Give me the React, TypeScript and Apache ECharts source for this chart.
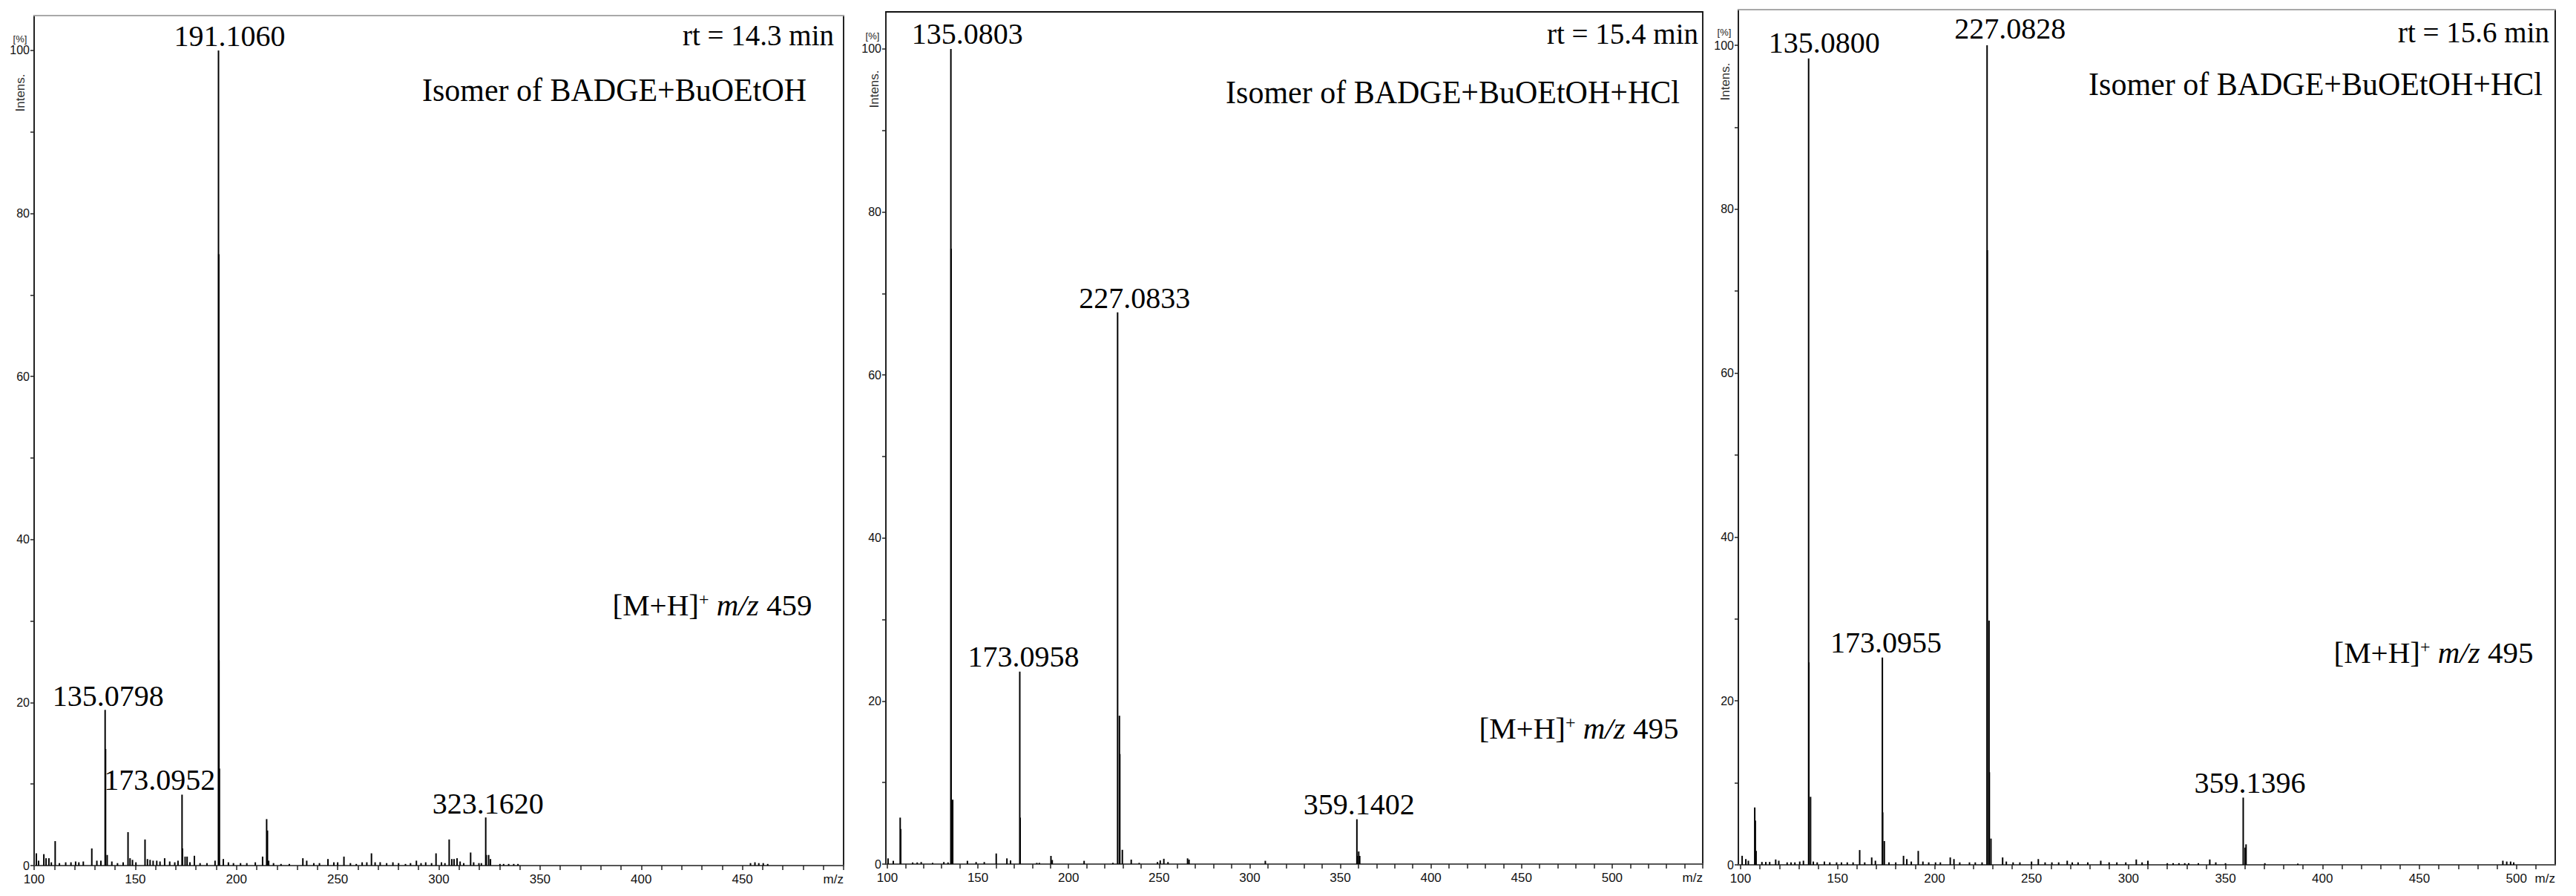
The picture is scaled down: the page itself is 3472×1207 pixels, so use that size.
import React, { useEffect, useRef } from "react";
import * as echarts from "echarts";

// ---------------- DATA ----------------
// Panel 1: Isomer of BADGE+BuOEtOH, rt = 14.3 min
const p1Title = "Isomer of BADGE+BuOEtOH";
const p1Rt = "rt = 14.3 min";
const p1Ion = "459";
const p1Mz = [
  191.106, 191.25, 191.35, 191.55, 135.0798, 135.3, 173.0952, 173.3, 323.162, 323.45,
  101.1, 102.2, 104.8, 105.9, 107.3, 108.5, 110.4, 112.5, 115.6, 118.2, 120.5, 122.1, 124.3,
  128.5, 131.0, 133.0, 136.1, 138.4, 141.2, 144.0, 146.4, 147.4, 148.6, 150.3, 154.8, 156.0,
  157.3, 158.8, 160.6, 162.2, 164.5, 167.0, 169.5, 171.1, 174.6, 175.6, 177.0, 179.2, 182.0,
  185.4, 189.4, 193.5, 196.0, 198.5, 202.0, 205.1, 209.3, 212.9, 214.9, 215.3, 215.9, 218.3,
  222.0, 226.1, 232.8, 234.7, 238.2, 241.0, 245.2, 248.1, 250.0, 253.1, 256.3, 259.2, 262.1,
  264.4, 266.7, 268.5, 271.0, 274.2, 277.3, 280.1, 283.5, 286.0, 288.9, 291.2, 293.5, 296.4,
  298.6, 301.3, 303.0, 305.1, 306.4, 307.5, 309.0, 310.5, 312.3, 315.7, 317.2, 319.8, 321.0,
  324.6, 325.5, 330.2, 332.0, 334.5, 337.0, 339.1, 454.0, 456.2, 458.1, 460.3, 462.5,
];
const p1Int = [
  100, 75, 25.2, 11.9, 19.1, 14.3, 8.7, 2.1, 5.9, 1.3,
  1.5, 0.6, 1.4, 0.9, 0.9, 0.4, 3.0, 0.3, 0.4, 0.4, 0.5, 0.4, 0.5,
  2.1, 0.6, 0.6, 1.3, 0.5, 0.3, 0.4, 4.1, 0.9, 0.7, 0.4, 3.2, 0.8,
  0.7, 0.6, 0.6, 0.5, 0.9, 0.5, 0.4, 0.6, 1.1, 1.1, 0.4, 1.2, 0.3,
  0.3, 0.6, 0.8, 0.4, 0.3, 0.3, 0.3, 0.4, 1.1, 5.7, 4.3, 0.6, 0.3,
  0.2, 0.2, 0.9, 0.6, 0.3, 0.3, 0.8, 0.4, 0.4, 1.1, 0.3, 0.2, 0.4,
  0.4, 1.5, 0.4, 0.4, 0.3, 0.4, 0.3, 0.2, 0.3, 0.6, 0.3, 0.4, 0.3,
  1.5, 0.4, 0.3, 3.2, 0.8, 0.8, 0.9, 0.5, 0.3, 1.6, 0.4, 0.3, 0.3,
  1.3, 0.8, 0.2, 0.2, 0.2, 0.2, 0.2, 0.3, 0.4, 0.3, 0.3, 0.2,
];
const p1LabelMz = [191.106, 135.0798, 173.0952, 323.162];

// Panel 2: Isomer of BADGE+BuOEtOH+HCl, rt = 15.4 min
const p2Title = "Isomer of BADGE+BuOEtOH+HCl";
const p2Rt = "rt = 15.4 min";
const p2Ion = "495";
const p2Mz = [
  135.0803, 135.2, 136.08, 173.0958, 173.3, 227.0833, 228.09, 228.3, 229.7, 359.1402, 359.4,
  360.14, 360.7,
  100.4, 103.3, 107.1, 107.4, 114.0, 116.5, 118.7, 125.0, 131.2, 133.5, 144.2, 149.0, 153.5,
  160.1, 166.0, 168.0, 182.5, 183.9, 190.3, 191.0, 208.6, 224.5, 234.6, 239.0, 249.1, 250.6,
  252.6, 254.9, 265.7, 266.5, 308.6,
];
const p2Int = [
  100, 75.5, 7.9, 23.6, 5.7, 67.7, 18.2, 13.5, 1.75, 5.5, 1.0,
  1.55, 1.0,
  0.7, 0.4, 5.7, 4.3, 0.2, 0.2, 0.25, 0.15, 0.25, 0.2, 0.4, 0.25, 0.25,
  1.3, 0.7, 0.45, 0.15, 0.15, 1.0, 0.5, 0.4, 0.15, 0.55, 0.15, 0.25, 0.45,
  0.65, 0.25, 0.7, 0.55, 0.4,
];
const p2LabelMz = [135.0803, 227.0833, 173.0958, 359.1402];

// Panel 3: Isomer of BADGE+BuOEtOH+HCl, rt = 15.6 min
const p3Title = "Isomer of BADGE+BuOEtOH+HCl";
const p3Rt = "rt = 15.6 min";
const p3Ion = "495";
const p3Mz = [
  135.08, 135.2, 136.08, 173.0955, 173.25, 174.1, 227.0828, 227.2, 228.09, 228.25, 229.08,
  359.1396, 360.1, 360.6,
  100.8, 102.7, 104.0, 107.3, 107.6, 108.0, 111.0, 113.0, 115.0, 118.1, 119.7, 124.0, 126.0,
  128.0, 130.5, 132.4, 137.5, 139.5, 143.2, 146.0, 149.5, 152.0, 155.0, 158.0, 161.4, 164.0,
  167.6, 169.5, 176.5, 180.0, 184.0, 185.7, 188.0, 191.6, 194.0, 197.0, 200.5, 203.0, 208.1,
  210.0, 213.0, 218.0, 221.0, 224.5, 235.1, 237.0, 240.5, 244.0, 250.0, 253.5, 257.0, 260.5,
  264.0, 268.4, 271.0, 274.0, 279.0, 285.7, 290.0, 294.0, 298.6, 304.0, 307.0, 310.0, 320.0,
  323.0, 326.0, 329.0, 331.0, 336.0, 341.9, 345.0, 350.0, 370.3, 387.3, 493.0, 495.0, 497.0,
  498.6,
];
const p3Int = [
  98.4, 24.7, 8.3, 25.3, 6.4, 2.9, 100, 75, 29.8, 11.3, 3.2,
  8.2, 2.1, 2.5,
  1.1, 0.7, 0.5, 7.0, 5.4, 1.7, 0.35, 0.35, 0.35, 0.65, 0.5, 0.3, 0.3,
  0.3, 0.4, 0.5, 0.4, 0.3, 0.4, 0.3, 0.3, 0.3, 0.3, 0.3, 1.8, 0.3,
  0.9, 0.5, 0.3, 0.3, 1.1, 0.7, 0.4, 1.7, 0.4, 0.3, 0.3, 0.3, 0.9,
  0.7, 0.3, 0.3, 0.3, 0.3, 0.9, 0.4, 0.3, 0.3, 0.4, 0.7, 0.3, 0.3,
  0.3, 0.5, 0.3, 0.3, 0.3, 0.5, 0.3, 0.3, 0.3, 0.65, 0.3, 0.5, 0.2,
  0.2, 0.2, 0.2, 0.2, 0.2, 0.65, 0.3, 0.2, 0.2, 0.15, 0.5, 0.4, 0.4,
  0.3,
];
const p3LabelMz = [135.08, 227.0828, 173.0955, 359.1396];

// Axis tick labels
const yTickLabels = [0, 20, 40, 60, 80, 100];
const p1XLabels = [100, 150, 200, 250, 300, 350, 400, 450];
const p2XLabels = [100, 150, 200, 250, 300, 350, 400, 450, 500];
const p3XLabels = [100, 150, 200, 250, 300, 350, 400, 450, 500];

// ---------------- LAYOUT / STYLE ----------------
const range = (a: number, b: number, s: number) => {
  const out: number[] = [];
  for (let v = a; v <= b + 1e-9; v += s) out.push(Math.round(v * 100) / 100);
  return out;
};

const panels = [
  {
    mz: p1Mz, int: p1Int, labels: p1LabelMz, xLabels: p1XLabels,
    title: p1Title, rt: p1Rt, ion: p1Ion,
    grid: { left: 46, top: 21, width: 1091, height: 1145 },
    xMin: 100, xMax: 500, yMax: 104.28, tickMax: 500, topColor: "#a8a8a8",
    offsets: [[15, 1], [4, 1], [-30, 0], [3, 1]],
    rtPos: [1124, 47], titlePos: [828, 121], ionPos: [960, 815],
    pctPos: [27, 52], intPos: [27, 125],
  },
  {
    mz: p2Mz, int: p2Int, labels: p2LabelMz, xLabels: p2XLabels,
    title: p2Title, rt: p2Rt, ion: p2Ion,
    grid: { left: 1194, top: 16, width: 1101, height: 1148 },
    xMin: 99.2, xMax: 550, yMax: 104.55, tickMax: 550, topColor: "#111",
    offsets: [[22, 0], [23, 1], [5, 0], [3, 0]],
    rtPos: [2289, 45], titlePos: [1958, 124], ionPos: [2128, 981],
    pctPos: [1176, 48], intPos: [1178, 120],
  },
  {
    mz: p3Mz, int: p3Int, labels: p3LabelMz, xLabels: p3XLabels,
    title: p3Title, rt: p3Rt, ion: p3Ion,
    grid: { left: 2343, top: 13, width: 1101, height: 1152 },
    xMin: 98.85, xMax: 520, yMax: 104.35, tickMax: 510, topColor: "#a8a8a8",
    offsets: [[21, -1], [31, -3], [5, 0], [9, 0]],
    rtPos: [3436, 43], titlePos: [3121, 113], ionPos: [3280, 879],
    pctPos: [2324, 43], intPos: [2325, 110],
  },
];

const SERIF = '"Liberation Serif", "Times New Roman", serif';
const SANS = '"Liberation Sans", Arial, sans-serif';

export default function App() {
  const ref = useRef<HTMLDivElement>(null);

  useEffect(() => {
    if (!ref.current) return;
    const chart = echarts.init(ref.current, undefined, { renderer: "svg" });

    const grids: any[] = [];
    const xAxes: any[] = [];
    const yAxes: any[] = [];
    const series: any[] = [];
    const graphics: any[] = [];

    panels.forEach((p, i) => {
      grids.push({ ...p.grid, containLabel: false });
      const xMax = p.xMax;
      xAxes.push({
        gridIndex: i, type: "value", min: p.xMin, max: xMax, position: "bottom",
        axisLine: { show: true, onZero: false, lineStyle: { color: "#555", width: 2 } },
        axisTick: { show: true, inside: false, length: 6, customValues: range(100, p.tickMax, 10), lineStyle: { color: "#222", width: 1.5 } },
        axisLabel: {
          show: true, customValues: [...p.xLabels, xMax], margin: 10,
          formatter: (v: number) => (Math.abs(v - xMax) < 1e-6 ? "m/z" : String(v)),
          fontFamily: SANS, fontSize: 17, color: "#111", alignMaxLabel: "right",
        },
        splitLine: { show: false },
      });
      xAxes.push({
        gridIndex: i, type: "value", min: p.xMin, max: xMax, position: "top",
        axisLine: { show: true, onZero: false, lineStyle: { color: p.topColor, width: 2 } },
        axisTick: { show: false }, axisLabel: { show: false }, splitLine: { show: false },
      });
      yAxes.push({
        gridIndex: i, type: "value", min: 0, max: p.yMax, position: "left",
        axisLine: { show: true, onZero: false, lineStyle: { color: "#222", width: 2 } },
        axisTick: { show: true, inside: false, length: 5, customValues: range(0, 100, 10), lineStyle: { color: "#222", width: 1.5 } },
        axisLabel: { show: true, customValues: yTickLabels, margin: 6, fontFamily: SANS, fontSize: 16, color: "#111" },
        splitLine: { show: false },
      });
      yAxes.push({
        gridIndex: i, type: "value", min: 0, max: p.yMax, position: "right",
        axisLine: { show: true, onZero: false, lineStyle: { color: "#222", width: 2 } },
        axisTick: { show: false }, axisLabel: { show: false }, splitLine: { show: false },
      });

      const data = p.mz.map((m, k) => {
        const li = p.labels.indexOf(m);
        const item: any = { value: [m, p.int[k]] };
        if (li >= 0) {
          item.label = {
            show: true, position: "top", distance: 0,
            formatter: m.toFixed(4), offset: p.offsets[li],
            fontFamily: SERIF, fontSize: 40, color: "#000",
          };
        }
        return item;
      });
      series.push({
        type: "bar", xAxisIndex: 2 * i, yAxisIndex: 2 * i, barWidth: 2,
        itemStyle: { color: "#000" }, silent: true, clip: false, z: 3,
        label: { show: false }, data,
      });

      graphics.push(
        { type: "text", x: p.rtPos[0], y: p.rtPos[1], silent: true,
          style: { text: p.rt, fontFamily: SERIF, fontSize: 39, fill: "#000", align: "right", verticalAlign: "middle" } },
        { type: "text", x: p.titlePos[0], y: p.titlePos[1], scaleY: 1.06, silent: true,
          style: { text: p.title, fontFamily: SERIF, fontSize: 42, fill: "#000", align: "center", verticalAlign: "middle" } },
        { type: "text", x: p.ionPos[0], y: p.ionPos[1], silent: true,
          style: {
            text: "[M+H]{s|+} {i|m/z} " + p.ion, fontFamily: SERIF, fontSize: 41, fill: "#000",
            align: "center", verticalAlign: "middle",
            rich: {
              s: { fontFamily: SERIF, fontSize: 24, verticalAlign: "top", fill: "#000" },
              i: { fontFamily: SERIF, fontSize: 41, fontStyle: "italic", fill: "#000" },
            },
          } },
        { type: "text", x: p.pctPos[0], y: p.pctPos[1], silent: true,
          style: { text: "[%]", fontFamily: SANS, fontSize: 13, fill: "#222", align: "center", verticalAlign: "middle" } },
        { type: "text", x: p.intPos[0], y: p.intPos[1], rotation: Math.PI / 2, silent: true,
          style: { text: "Intens.", fontFamily: SANS, fontSize: 17, fill: "#333", align: "center", verticalAlign: "middle" } },
      );
    });

    chart.setOption({
      animation: false,
      backgroundColor: "#fff",
      grid: grids,
      xAxis: xAxes,
      yAxis: yAxes,
      series,
      graphic: graphics,
    });

    return () => chart.dispose();
  }, []);

  return (
    <div
      ref={ref}
      style={{ position: "absolute", left: 0, top: 0, width: 3472, height: 1207, background: "#fff" }}
    />
  );
}
